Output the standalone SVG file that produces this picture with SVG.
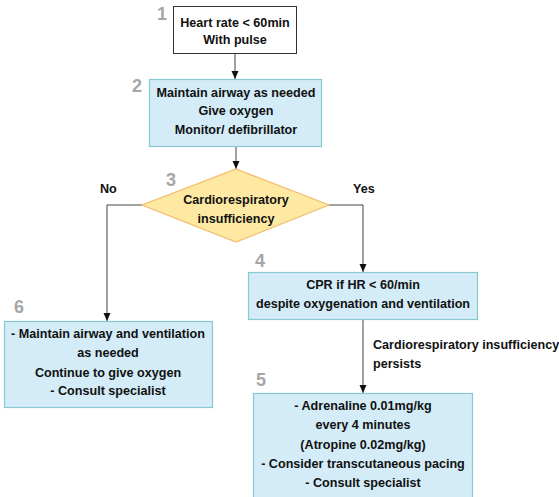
<svg xmlns="http://www.w3.org/2000/svg" width="559" height="497" viewBox="0 0 559 497">
<defs>
<style>
.t{font-family:"Liberation Sans",Arial,sans-serif;font-weight:bold;font-size:12.6px;fill:#111;text-anchor:middle}
.l{font-family:"Liberation Sans",Arial,sans-serif;font-weight:bold;font-size:12.6px;fill:#111}
.n{font-family:"Liberation Sans",Arial,sans-serif;font-weight:bold;font-size:18px;fill:#a6a6a6}
.b{fill:#d3ecf7;stroke:#86c9d3;stroke-width:1.2}
.c{fill:none;stroke:#444;stroke-width:1}
</style>
<marker id="ah" viewBox="0 0 8 8" refX="8" refY="4" markerWidth="8" markerHeight="8" orient="auto" markerUnits="userSpaceOnUse">
<path d="M0,0.5 L8,4 L0,7.5 Z" fill="#111"/>
</marker>
</defs>
<g id="connectors">
<line class="c" x1="235" y1="54" x2="235" y2="79" marker-end="url(#ah)"/>
<line class="c" x1="236" y1="147" x2="236" y2="169" marker-end="url(#ah)"/>
<polyline class="c" points="142,205 107,205 107,321" marker-end="url(#ah)"/>
<polyline class="c" points="329,205 363,205 363,272" marker-end="url(#ah)"/>
<line class="c" x1="363" y1="320" x2="363" y2="393" marker-end="url(#ah)"/>
<text class="l" x="100" y="193">No</text>
<text class="l" x="353" y="193">Yes</text>
<text class="l" x="373" y="349">Cardiorespiratory insufficiency</text>
<text class="l" x="373" y="368">persists</text>
</g>
<g id="node1">
<rect x="173.5" y="6.5" width="123" height="47" fill="#fff" stroke="#333" stroke-width="1"/>
<text class="n" x="157" y="20">1</text>
<text class="t" x="235" y="27">Heart rate &lt; 60min</text>
<text class="t" x="235" y="44">With pulse</text>
</g>
<g id="node2">
<rect class="b" x="149.5" y="79.5" width="172" height="67"/>
<text class="n" x="132" y="92">2</text>
<text class="t" x="236" y="97">Maintain airway as needed</text>
<text class="t" x="236" y="115">Give oxygen</text>
<text class="t" x="236" y="134">Monitor/ defibrillator</text>
</g>
<g id="node3">
<polygon points="236,169 329,205 236,242 142,205" fill="#fde9a2" stroke="#f4bc6a" stroke-width="1.2"/>
<text class="n" x="166" y="186">3</text>
<text class="t" x="236" y="204">Cardiorespiratory</text>
<text class="t" x="236" y="223">insufficiency</text>
</g>
<g id="node4">
<rect class="b" x="248.5" y="272.5" width="229" height="47"/>
<text class="n" x="255" y="267">4</text>
<text class="t" x="363" y="289">CPR if HR &lt; 60/min</text>
<text class="t" x="363" y="308">despite oxygenation and ventilation</text>
</g>
<g id="node6">
<rect class="b" x="4.5" y="321.5" width="208" height="86"/>
<text class="n" x="14" y="313">6</text>
<text class="t" x="108" y="338">- Maintain airway and ventilation</text>
<text class="t" x="108" y="357">as needed</text>
<text class="t" x="108" y="377">Continue to give oxygen</text>
<text class="t" x="108" y="395">- Consult specialist</text>
</g>
<g id="node5">
<rect class="b" x="253.5" y="393.5" width="219" height="106"/>
<text class="n" x="256" y="386">5</text>
<text class="t" x="363" y="410">- Adrenaline 0.01mg/kg</text>
<text class="t" x="363" y="429">every 4 minutes</text>
<text class="t" x="363" y="449">(Atropine 0.02mg/kg)</text>
<text class="t" x="363" y="468">- Consider transcutaneous pacing</text>
<text class="t" x="363" y="487">- Consult specialist</text>
</g>
</svg>
